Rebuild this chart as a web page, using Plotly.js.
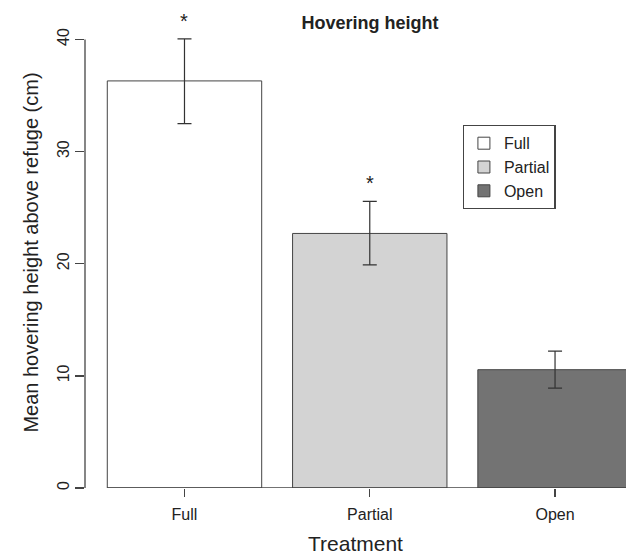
<!DOCTYPE html>
<html>
<head>
<meta charset="utf-8">
<script src="https://cdn.plot.ly/plotly-3.0.1.min.js"></script>
<style>html,body{margin:0;padding:0;background:#fff;}#chart{width:626px;height:557px;}</style>
</head>
<body>
<div id="chart"></div>
<script>
// Data
const categories = ["Full", "Partial", "Open"];
const means = [36.3, 22.7, 10.55];
const errUpper = [40.05, 25.55, 12.2];
const errLower = [32.5, 19.9, 8.9];
const significant = [true, true, false];
const fillColors = ["#ffffff", "#d3d3d3", "#737373"];
const yTicks = [0, 10, 20, 30, 40];

const barWidth = 1 / 1.2;
const lineColor = "#444444";

const traces = categories.map((c, i) => ({
  type: "bar",
  name: c,
  x: [i],
  y: [means[i]],
  width: [barWidth],
  marker: { color: fillColors[i], line: { color: lineColor, width: 1 } },
  error_y: {
    type: "data", symmetric: false,
    array: [errUpper[i] - means[i]],
    arrayminus: [means[i] - errLower[i]],
    color: "#333333", thickness: 1.2, width: 7
  },
  hoverinfo: "skip"
}));

const annotations = categories.map((c, i) => significant[i] ? {
  x: i, y: errUpper[i], xref: "x", yref: "y",
  text: "*", showarrow: false, yanchor: "bottom", yshift: 5,
  font: { family: "Liberation Sans, Arial, sans-serif", size: 20, color: "#222" }
} : null).filter(a => a);

const shapes = [
  // y axis line from first to last tick
  { type: "line", xref: "paper", yref: "y", x0: 0, x1: 0, y0: yTicks[0], y1: yTicks[yTicks.length - 1], line: { color: lineColor, width: 1.3 } },
  // baseline at zero
  { type: "line", xref: "x", yref: "y", x0: -barWidth / 2, x1: categories.length, y0: 0, y1: 0, line: { color: lineColor, width: 1.3 } }
];

const font = "Liberation Sans, Arial, sans-serif";
const layout = {
  width: 626, height: 557,
  margin: { l: 85, r: 0, t: 17, b: 69 },
  paper_bgcolor: "#fff", plot_bgcolor: "#fff",
  barmode: "overlay",
  showlegend: true,
  title: { text: "<b>Hovering height</b>", x: 0.591, xref: "container", y: 0.96, yref: "container", yanchor: "middle",
           font: { family: font, size: 18, color: "#222" } },
  xaxis: {
    range: [-0.537, 2.383],
    tickmode: "array", tickvals: categories.map((c, i) => i), ticktext: categories,
    ticks: "outside", ticklen: 8, tickcolor: lineColor, tickwidth: 1.3,
    ticklabelstandoff: 4,
    showline: false, showgrid: false, zeroline: false,
    tickfont: { family: font, size: 16, color: "#222" },
    title: { text: "Treatment", font: { family: font, size: 21, color: "#222" }, standoff: 14 }
  },
  yaxis: {
    range: [0, 42],
    tickmode: "array", tickvals: yTicks, ticktext: yTicks.map(String),
    ticks: "outside", ticklen: 9, tickcolor: lineColor, tickwidth: 1.3,
    tickangle: -90,
    showline: false, showgrid: false, zeroline: false,
    tickfont: { family: font, size: 16, color: "#222" },
    title: { text: "Mean hovering height above refuge (cm)", font: { family: font, size: 20, color: "#222" }, standoff: 10 }
  },
  legend: {
    x: 0.698, xanchor: "left", y: (557 - 125 - 69) / (557 - 17 - 69) , yanchor: "top",
    bordercolor: lineColor, borderwidth: 1.3, bgcolor: "#fff",
    font: { family: font, size: 16, color: "#222" },
    itemwidth: 30, tracegroupgap: 0
  },
  shapes: shapes,
  annotations: annotations
};

Plotly.newPlot("chart", traces, layout, { displayModeBar: false, staticPlot: true });
</script>
</body>
</html>
